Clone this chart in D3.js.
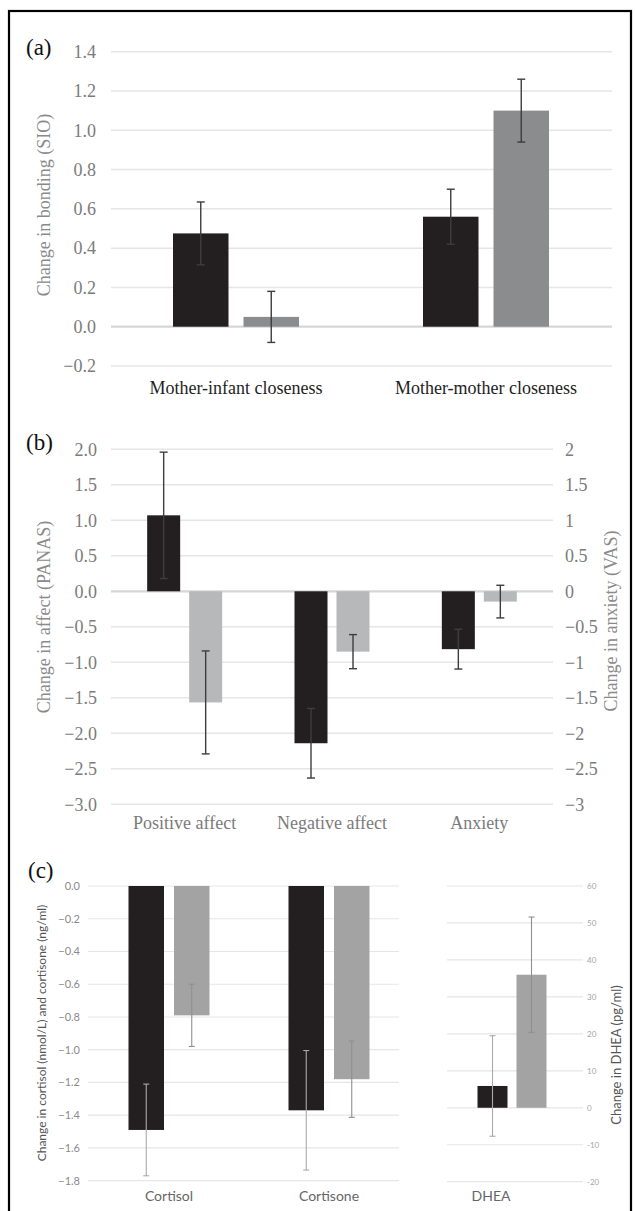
<!DOCTYPE html>
<html>
<head>
<meta charset="utf-8">
<script src="https://cdn.jsdelivr.net/npm/d3@7"></script>
<style>
  html, body { margin: 0; padding: 0; background: #fff; }
  svg { display: block; }
</style>
</head>
<body>
<svg id="chart" width="635" height="1211"></svg>
<script>
// ---------------- DATA ----------------
// Panel (a)
const catsA = ["Mother-infant closeness", "Mother-mother closeness"];
const valsA1 = [0.475, 0.56];
const errA1 = [0.16, 0.14];
const valsA2 = [0.05, 1.10];
const errA2 = [0.13, 0.16];
const ticksA = [-0.2, 0.0, 0.2, 0.4, 0.6, 0.8, 1.0, 1.2, 1.4];

// Panel (b)
const catsB = ["Positive affect", "Negative affect", "Anxiety"];
const valsB1 = [1.07, -2.14, -0.815];
const errB1 = [0.89, 0.49, 0.28];
const valsB2 = [-1.565, -0.85, -0.145];
const errB2 = [0.725, 0.24, 0.23];
const ticksB = [-3.0, -2.5, -2.0, -1.5, -1.0, -0.5, 0.0, 0.5, 1.0, 1.5, 2.0];

// Panel (c)
const catsC = ["Cortisol", "Cortisone"];
const valsC1 = [-1.49, -1.37];
const errC1 = [0.28, 0.365];
const valsC2 = [-0.79, -1.18];
const errC2 = [0.19, 0.233];
const ticksC = [-1.8, -1.6, -1.4, -1.2, -1.0, -0.8, -0.6, -0.4, -0.2, 0.0];

const catsD = ["DHEA"];
const valsD1 = [5.9];
const errD1 = [13.6];
const valsD2 = [36.0];
const errD2 = [15.6];
const ticksD = [-20, -10, 0, 10, 20, 30, 40, 50, 60];

// ---------------- DRAW ----------------
const svg = d3.select("#chart");
const SERIF = "'Liberation Serif', 'Times New Roman', serif";
const SANS = "Lato, 'Open Sans', sans-serif";
const minus = s => s.replace("-", "\u2212");

// outer frame
svg.append("rect").attr("x", 9).attr("y", 11).attr("width", 622).attr("height", 1215)
  .attr("fill", "none").attr("stroke", "#000").attr("stroke-width", 2.2);

function grid(g, y, ticks, x0, x1, color, width, zeroColor, zeroWidth) {
  g.selectAll(null).data(ticks).enter().append("line")
    .attr("x1", x0).attr("x2", x1)
    .attr("y1", d => y(d)).attr("y2", d => y(d))
    .attr("stroke", d => (d === 0 && zeroColor) ? zeroColor : color)
    .attr("stroke-width", d => (d === 0 && zeroWidth) ? zeroWidth : width);
}

function bars(g, x, sub, y, cats, vals, errs, key, fill, errColor, errW, capHalf) {
  const data = cats.map((c, i) => ({ c, v: vals[i], e: errs[i] }));
  g.selectAll(null).data(data).enter().append("rect")
    .attr("x", d => x(d.c) + sub(key))
    .attr("width", sub.bandwidth())
    .attr("y", d => y(Math.max(0, d.v)))
    .attr("height", d => Math.abs(y(d.v) - y(0)))
    .attr("fill", fill);
  const cx = d => x(d.c) + sub(key) + sub.bandwidth() / 2;
  g.selectAll(null).data(data).enter().append("line")
    .attr("x1", cx).attr("x2", cx)
    .attr("y1", d => y(d.v + d.e)).attr("y2", d => y(d.v - d.e))
    .attr("stroke", errColor).attr("stroke-width", errW);
  [1, -1].forEach(s => {
    g.selectAll(null).data(data).enter().append("line")
      .attr("x1", d => cx(d) - capHalf).attr("x2", d => cx(d) + capHalf)
      .attr("y1", d => y(d.v + s * d.e)).attr("y2", d => y(d.v + s * d.e))
      .attr("stroke", errColor).attr("stroke-width", errW);
  });
}

function subScale(bw, total, barW) {
  const p = 1 - barW / (total - barW) * 0 ; // placeholder
  const gap = total - 2 * barW;
  const step = barW + gap;
  const pad = gap / step;
  return d3.scaleBand().domain(["s1", "s2"])
    .range([bw / 2 - total / 2, bw / 2 + total / 2])
    .paddingInner(pad).paddingOuter(0);
}

// ---------- Panel (a) ----------
{
  const g = svg.append("g");
  const y = d3.scaleLinear().domain([-0.2, 1.4]).range([366, 51.7]);
  const x = d3.scaleBand().domain(catsA).range([111, 611]);
  const sub = subScale(x.bandwidth(), 126, 55.5);
  grid(g, y, ticksA, 111, 612, "#e6e6e6", 1.5, "#d6d6d6", 2.2);
  bars(g, x, sub, y, catsA, valsA1, errA1, "s1", "#231f20", "#3d3d3d", 1.4, 4);
  bars(g, x, sub, y, catsA, valsA2, errA2, "s2", "#8b8c8e", "#3d3d3d", 1.4, 4);
  g.selectAll(null).data(ticksA).enter().append("text")
    .attr("x", 96).attr("y", d => y(d)).attr("dy", "0.35em")
    .attr("text-anchor", "end").attr("font-family", SERIF).attr("font-size", 18)
    .attr("fill", "#7b7b7b").text(d => minus(d3.format(".1f")(d)));
  g.selectAll(null).data(catsA).enter().append("text")
    .attr("x", d => x(d) + x.bandwidth() / 2).attr("y", 394)
    .attr("text-anchor", "middle").attr("font-family", SERIF).attr("font-size", 18)
    .attr("fill", "#1e1e1e").text(d => d);
  g.append("text").attr("transform", "translate(50,205) rotate(-90)")
    .attr("text-anchor", "middle").attr("font-family", SERIF).attr("font-size", 18)
    .attr("fill", "#8a8a8a").text("Change in bonding (SIO)");
  g.append("text").attr("x", 26).attr("y", 55).attr("font-family", SERIF)
    .attr("font-size", 23).attr("fill", "#111").text("(a)");
}

// ---------- Panel (b) ----------
{
  const g = svg.append("g");
  const y = d3.scaleLinear().domain([-3, 2]).range([804.3, 449.3]);
  const yR = d3.scaleLinear().domain([-3, 2]).range([804.3, 449.3]);
  const x = d3.scaleBand().domain(catsB).range([111, 553]);
  const sub = subScale(x.bandwidth(), 75, 33);
  grid(g, y, ticksB, 111, 553, "#e6e6e6", 1.5, "#d6d6d6", 2.2);
  bars(g, x, sub, y, catsB, valsB1, errB1, "s1", "#231f20", "#3d3d3d", 1.4, 4);
  bars(g, x, sub, y, catsB, valsB2, errB2, "s2", "#b7b8ba", "#3d3d3d", 1.4, 4);
  g.selectAll(null).data(ticksB).enter().append("text")
    .attr("x", 97).attr("y", d => y(d)).attr("dy", "0.35em")
    .attr("text-anchor", "end").attr("font-family", SERIF).attr("font-size", 18)
    .attr("fill", "#7b7b7b").text(d => minus(d3.format(".1f")(d)));
  g.selectAll(null).data(ticksB).enter().append("text")
    .attr("x", 565).attr("y", d => yR(d)).attr("dy", "0.35em")
    .attr("text-anchor", "start").attr("font-family", SERIF).attr("font-size", 18)
    .attr("fill", "#7b7b7b").text(d => minus(String(d)));
  g.selectAll(null).data(catsB).enter().append("text")
    .attr("x", d => x(d) + x.bandwidth() / 2).attr("y", 829)
    .attr("text-anchor", "middle").attr("font-family", SERIF).attr("font-size", 18)
    .attr("fill", "#7b7b7b").text(d => d);
  g.append("text").attr("transform", "translate(50,617) rotate(-90)")
    .attr("text-anchor", "middle").attr("font-family", SERIF).attr("font-size", 18)
    .attr("fill", "#8a8a8a").text("Change in affect (PANAS)");
  g.append("text").attr("transform", "translate(617,621) rotate(-90)")
    .attr("text-anchor", "middle").attr("font-family", SERIF).attr("font-size", 18)
    .attr("fill", "#8a8a8a").text("Change in anxiety (VAS)");
  g.append("text").attr("x", 26).attr("y", 450).attr("font-family", SERIF)
    .attr("font-size", 23).attr("fill", "#111").text("(b)");
}

// ---------- Panel (c) ----------
{
  const g = svg.append("g");
  const y = d3.scaleLinear().domain([-1.8, 0]).range([1180.7, 886]);
  const yD = d3.scaleLinear().domain([-20, 60]).range([1181.7, 886]);
  const x = d3.scaleBand().domain(catsC).range([89, 409]);
  const sub = subScale(x.bandwidth(), 81, 35.5);
  const xD = d3.scaleBand().domain(catsD).range([447, 577]);
  const subD = subScale(xD.bandwidth(), 69, 30);
  grid(g, y, ticksC, 88, 399, "#e6e6e6", 1.2);
  grid(g, yD, ticksD, 447, 583, "#e6e6e6", 1.2);
  bars(g, x, sub, y, catsC, valsC1, errC1, "s1", "#231f20", "#a9a9a9", 1.1, 3);
  bars(g, x, sub, y, catsC, valsC2, errC2, "s2", "#a3a3a3", "#8f8f8f", 1.1, 3);
  bars(g, xD, subD, yD, catsD, valsD1, errD1, "s1", "#231f20", "#a9a9a9", 1.1, 3);
  bars(g, xD, subD, yD, catsD, valsD2, errD2, "s2", "#a3a3a3", "#8f8f8f", 1.1, 3);
  g.selectAll(null).data(ticksC).enter().append("text")
    .attr("x", 80).attr("y", d => y(d)).attr("dy", "0.35em")
    .attr("text-anchor", "end").attr("font-family", SANS).attr("font-size", 11)
    .attr("fill", "#8a8a8a").text(d => d3.format(".1f")(d));
  g.selectAll(null).data(ticksD).enter().append("text")
    .attr("x", 587).attr("y", d => yD(d)).attr("dy", "0.35em")
    .attr("text-anchor", "start").attr("font-family", SANS).attr("font-size", 8)
    .attr("fill", "#a5a5a5").text(d => String(d));
  g.selectAll(null).data(catsC).enter().append("text")
    .attr("x", d => x(d) + x.bandwidth() / 2).attr("y", 1201)
    .attr("text-anchor", "middle").attr("font-family", SANS).attr("font-size", 14)
    .attr("fill", "#666").text(d => d);
  g.selectAll(null).data(catsD).enter().append("text")
    .attr("x", d => xD(d) + xD.bandwidth() / 2 - 21).attr("y", 1201)
    .attr("text-anchor", "middle").attr("font-family", SANS).attr("font-size", 14)
    .attr("fill", "#666").text(d => d);
  g.append("text").attr("transform", "translate(46,1033) rotate(-90)")
    .attr("text-anchor", "middle").attr("font-family", SANS).attr("font-size", 12)
    .attr("fill", "#555").text("Change in cortisol (nmol/L) and cortisone (ng/ml)");
  g.append("text").attr("transform", "translate(621,1055) rotate(-90)")
    .attr("text-anchor", "middle").attr("font-family", SANS).attr("font-size", 13)
    .attr("fill", "#555").text("Change in DHEA (pg/ml)");
  g.append("text").attr("x", 28).attr("y", 878).attr("font-family", SERIF)
    .attr("font-size", 23).attr("fill", "#111").text("(c)");
}
</script>
</body>
</html>
